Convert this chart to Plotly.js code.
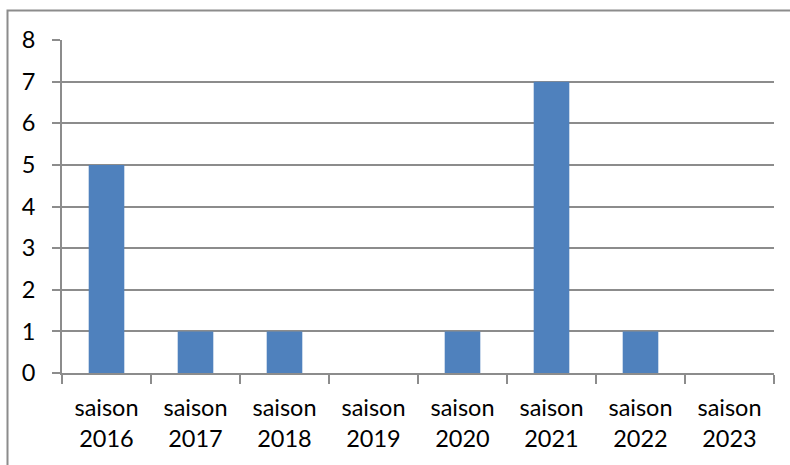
<!DOCTYPE html>
<html><head><meta charset="utf-8">
<script src="https://cdn.plot.ly/plotly-3.0.1.min.js"></script>
<style>html,body{margin:0;padding:0;background:#fff}#chart{width:790px;height:465px}</style>
</head><body><div id="chart"></div>
<script>
const categories = ["saison<br>2016","saison<br>2017","saison<br>2018","saison<br>2019","saison<br>2020","saison<br>2021","saison<br>2022","saison<br>2023"];
const values = [5, 1, 1, 0, 1, 7, 1, 0];
const yTicks = [0,1,2,3,4,5,6,7,8];

const L = 62, R = 16, T = 40, B = 92;
const W = 790, H = 465;
const pw = W - L - R, ph = H - T - B;
const px = v => (v - L) / pw;
const py = v => (H - B - v) / ph;
const FS = 23.5;

Plotly.newPlot('chart', [{
  type: 'bar', x: categories, y: values,
  marker: {color: '#4F81BD', line: {width: 0}},
  hoverinfo: 'skip'
}], {
  width: W, height: H,
  margin: {l: L, r: R, t: T, b: B, pad: 0},
  paper_bgcolor: '#fff', plot_bgcolor: '#fff',
  bargap: 0.6,
  showlegend: false,
  font: {family: 'Lato, sans-serif', size: FS, color: '#000'},
  xaxis: {
    type: 'category', tickson: 'boundaries', ticks: 'outside', ticklen: 9, tickwidth: 2, tickcolor: '#8c8c8c',
    showline: true, linecolor: '#8c8c8c', linewidth: 2, showgrid: false, zeroline: false,
    tickfont: {family: 'Lato, sans-serif', size: FS, color: '#000'}, fixedrange: true, ticklabelstandoff: 13
  },
  yaxis: {
    range: [0, 8], tickvals: yTicks, ticktext: yTicks.map(String),
    ticks: 'outside', ticklen: 8, tickwidth: 2, tickcolor: '#8c8c8c',
    showline: true, linecolor: '#8c8c8c', linewidth: 2,
    showgrid: true, gridcolor: '#8c8c8c', gridwidth: 2, zeroline: false,
    tickfont: {family: 'Lato, sans-serif', size: FS, color: '#000'}, fixedrange: true, ticklabelstandoff: 12
  },
  shapes: [{
    type: 'rect', xref: 'paper', yref: 'paper',
    x0: px(7.5), x1: px(795), y0: py(470), y1: py(10.5),
    line: {color: '#8c8c8c', width: 2}, fillcolor: 'rgba(0,0,0,0)', layer: 'below'
  }]
}, {staticPlot: true, displayModeBar: false});
</script></body></html>
